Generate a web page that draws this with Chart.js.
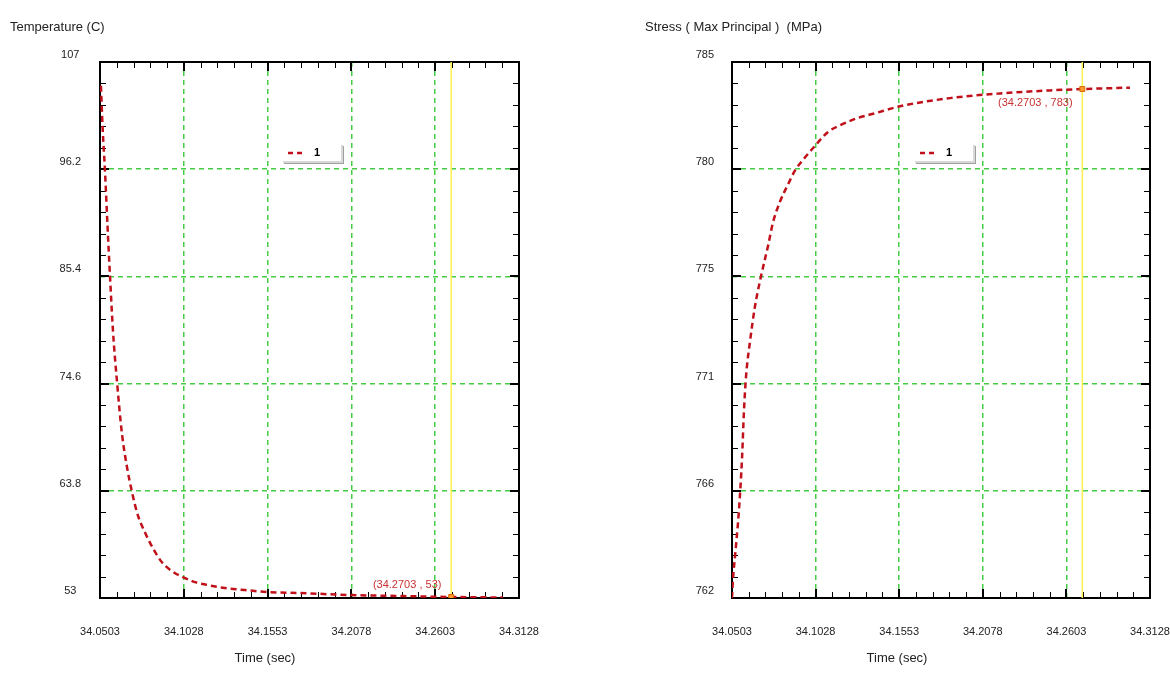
<!DOCTYPE html>
<html>
<head>
    <title>Temperature / Stress vs Time</title>
    <script src="https://cdn.jsdelivr.net/npm/chart.js"></script>
    <style>
        body {
            margin: 0;
            background-color: #fff;
            font-family: "Liberation Sans", Arial, sans-serif;
        }

        .panel {
            position: absolute;
            top: 0;
            height: 679px;
        }

        #leftPanel { left: 0; width: 585px; }
        #rightPanel { left: 635px; width: 535px; }
    </style>
</head>
<body>
    <div class="panel" id="leftPanel"><canvas id="tempChart" width="585" height="679"></canvas></div>
    <div class="panel" id="rightPanel"><canvas id="stressChart" width="535" height="679"></canvas></div>

    <script>
        // time axis (sec)
        var xTickValues = [34.0503, 34.1028, 34.1553, 34.2078, 34.2603, 34.3128];
        var xTickLabels = ['34.0503', '34.1028', '34.1553', '34.2078', '34.2603', '34.3128'];

        // temperature (C)
        var tempTickValues = [53, 63.8, 74.6, 85.4, 96.2, 107];
        var tempTickLabels = ['53', '63.8', '74.6', '85.4', '96.2', '107'];
        var tempTime = [34.0509, 34.0519, 34.0534, 34.0550, 34.0566, 34.0584, 34.0610, 34.0641, 34.0672,
            34.0703, 34.0741, 34.0785, 34.0835, 34.0891, 34.0954, 34.1023, 34.1098, 34.1180, 34.1286,
            34.1411, 34.1556, 34.1756, 34.2069, 34.2383, 34.2708, 34.3028];
        var tempValues = [104.6, 100.5, 96.1, 90.5, 85.3, 80.0, 74.7, 69.5, 66.2,
            63.7, 61.3, 59.6, 58.0, 56.6, 55.7, 55.1, 54.6, 54.3, 54.0,
            53.8, 53.6, 53.5, 53.3, 53.2, 53.1, 53.05];

        // stress, max principal (MPa)
        var stressTickValues = [762, 766.6, 771.2, 775.8, 780.4, 785];
        var stressTickLabels = ['762', '766', '771', '775', '780', '785'];
        var stressTime = [34.0503, 34.0509, 34.0522, 34.0547, 34.0566, 34.0578, 34.0591, 34.0616, 34.0647,
            34.0685, 34.0729, 34.0760, 34.0804, 34.0855, 34.0899, 34.0961, 34.1024, 34.1106, 34.1187,
            34.1294, 34.1401, 34.1558, 34.1872, 34.2186, 34.2500, 34.2707, 34.3002];
        var stressValues = [762.0, 762.8, 763.8, 765.8, 768.0, 770.0, 771.5, 773.0, 774.5,
            775.8, 777.1, 778.1, 779.0, 779.75, 780.35, 780.9, 781.4, 782.0, 782.3,
            782.6, 782.8, 783.1, 783.45, 783.65, 783.78, 783.84, 783.9];

        // cursor
        var cursorTime = 34.2703;
        var tempAtCursor = 53.1;
        var stressAtCursor = 783.84;

        // 4 minor ticks between each pair of major ticks
        function minorValues(ticks) {
            var out = [];
            for (var i = 0; i < ticks.length - 1; i++) {
                var a = ticks[i].value, b = ticks[i + 1].value;
                for (var k = 1; k < 5; k++) out.push(a + (b - a) * k / 5);
            }
            return out;
        }

        // black frame with inward ticks on all four sides
        var frameTicks = {
            id: 'frameTicks',
            beforeDatasetsDraw: function (chart) {
                var ctx = chart.ctx, a = chart.chartArea;
                var xs = chart.scales.x, ys = chart.scales.y;
                ctx.save();
                ctx.strokeStyle = '#000';
                ctx.lineWidth = 1;
                ctx.beginPath();
                minorValues(xs.ticks).forEach(function (v) {
                    var p = Math.round(xs.getPixelForValue(v)) + 0.5;
                    ctx.moveTo(p, a.bottom); ctx.lineTo(p, a.bottom - 6);
                    ctx.moveTo(p, a.top); ctx.lineTo(p, a.top + 6);
                });
                minorValues(ys.ticks).forEach(function (v) {
                    var p = Math.round(ys.getPixelForValue(v)) + 0.5;
                    ctx.moveTo(a.left, p); ctx.lineTo(a.left + 6, p);
                    ctx.moveTo(a.right, p); ctx.lineTo(a.right - 6, p);
                });
                ctx.stroke();

                ctx.lineWidth = 2;
                ctx.beginPath();
                xs.ticks.forEach(function (t) {
                    var p = Math.round(xs.getPixelForValue(t.value));
                    ctx.moveTo(p, a.bottom); ctx.lineTo(p, a.bottom - 9);
                    ctx.moveTo(p, a.top); ctx.lineTo(p, a.top + 9);
                });
                ys.ticks.forEach(function (t) {
                    var p = Math.round(ys.getPixelForValue(t.value));
                    ctx.moveTo(a.left, p); ctx.lineTo(a.left + 9, p);
                    ctx.moveTo(a.right, p); ctx.lineTo(a.right - 9, p);
                });
                ctx.stroke();
                ctx.strokeRect(a.left, a.top, a.right - a.left, a.bottom - a.top);
                ctx.restore();
            }
        };

        // titles, legend box and cursor label
        var panelDeco = {
            id: 'panelDeco',
            afterDatasetsDraw: function (chart, args, opts) {
                var ctx = chart.ctx, a = chart.chartArea;
                ctx.save();
                ctx.fillStyle = '#222';
                ctx.font = '13px "Liberation Sans", Arial, sans-serif';
                ctx.textBaseline = 'middle';
                ctx.textAlign = 'left';
                ctx.fillText(opts.title, 10, 27);
                ctx.textAlign = 'center';
                ctx.fillText('Time (sec)', a.left + 165, 658);

                // legend
                var lx = a.left + 182, ly = 144, lw = 60, lh = 18;
                ctx.fillStyle = '#a0a0a0';
                ctx.fillRect(lx + 2, ly + 2, lw, lh);
                ctx.fillStyle = '#d8d8d8';
                ctx.fillRect(lx + 1, ly + 1, lw, lh);
                ctx.fillStyle = '#fff';
                ctx.fillRect(lx, ly, lw - 1, lh - 1);
                ctx.strokeStyle = '#c0101a';
                ctx.lineWidth = 2.5;
                ctx.setLineDash([5, 4]);
                ctx.beginPath();
                ctx.moveTo(lx + 6, ly + 9);
                ctx.lineTo(lx + 22, ly + 9);
                ctx.stroke();
                ctx.setLineDash([]);
                ctx.fillStyle = '#000';
                ctx.font = 'bold 11px "Liberation Sans", Arial, sans-serif';
                ctx.fillText(chart.data.datasets[1].label, lx + 35, ly + 9);

                // cursor readout
                var px = chart.scales.x.getPixelForValue(cursorTime);
                var py = chart.scales.y.getPixelForValue(opts.cursorValue);
                ctx.fillStyle = '#c83232';
                ctx.font = '11px "Liberation Sans", Arial, sans-serif';
                ctx.fillText(opts.cursorLabel, px + opts.labelDx, py + opts.labelDy);
                ctx.restore();
            }
        };

        function makeChart(canvasId, times, values, tickValues, tickLabels, cursorValue, deco, padLeft, padRight, labelPad) {
            var yMin = tickValues[0], yMax = tickValues[tickValues.length - 1];
            var ctx = document.getElementById(canvasId).getContext('2d');
            return new Chart(ctx, {
                type: 'scatter',
                data: {
                    datasets: [{
                        label: 'cursor',
                        data: [{ x: cursorTime, y: cursorValue }],
                        pointStyle: 'rect',
                        pointRadius: 3.5,
                        backgroundColor: '#ff9a2e',
                        borderColor: '#d86a00',
                        borderWidth: 1,
                        showLine: false
                    }, {
                        label: '1',
                        data: times.map(function (t, i) { return { x: t, y: values[i] }; }),
                        showLine: true,
                        borderColor: '#c0101a',
                        borderWidth: 2.5,
                        borderDash: [6, 4],
                        pointRadius: 0,
                        cubicInterpolationMode: 'monotone'
                    }, {
                        label: 'cursorLine',
                        data: [{ x: cursorTime, y: yMin }, { x: cursorTime, y: yMax }],
                        showLine: true,
                        borderColor: '#fff04a',
                        borderWidth: 1.5,
                        pointRadius: 0
                    }]
                },
                options: {
                    responsive: false,
                    animation: false,
                    layout: { padding: { left: padLeft, top: 62, right: padRight, bottom: 0 } },
                    plugins: {
                        legend: { display: false },
                        tooltip: { enabled: false },
                        panelDeco: deco
                    },
                    scales: {
                        x: {
                            type: 'linear',
                            min: xTickValues[0],
                            max: xTickValues[xTickValues.length - 1],
                            afterBuildTicks: function (s) {
                                s.ticks = xTickValues.map(function (v) { return { value: v }; });
                            },
                            afterFit: function (s) {
                                s.height = 81;
                                s.paddingLeft = 0;
                                s.paddingRight = 0;
                            },
                            grid: { color: '#44cc44', lineWidth: 1.5, drawTicks: false },
                            border: { display: false, dash: [5, 4] },
                            ticks: {
                                autoSkip: false,
                                maxRotation: 0,
                                padding: 27,
                                color: '#222',
                                font: { family: '"Liberation Sans", Arial, sans-serif', size: 11 },
                                callback: function (v, i) { return xTickLabels[i]; }
                            }
                        },
                        y: {
                            type: 'linear',
                            min: yMin,
                            max: yMax,
                            afterBuildTicks: function (s) {
                                s.ticks = tickValues.map(function (v) { return { value: v }; });
                            },
                            afterFit: function (s) {
                                s.width = 60;
                                s.paddingTop = 0;
                                s.paddingBottom = 0;
                            },
                            grid: { color: '#44cc44', lineWidth: 1.5, drawTicks: false },
                            border: { display: false, dash: [5, 4] },
                            ticks: {
                                autoSkip: false,
                                crossAlign: 'center',
                                padding: labelPad,
                                labelOffset: -7,
                                color: '#222',
                                font: { family: '"Liberation Sans", Arial, sans-serif', size: 11 },
                                callback: function (v, i) { return tickLabels[i]; }
                            }
                        }
                    }
                },
                plugins: [frameTicks, panelDeco]
            });
        }

        var tempChart = makeChart('tempChart', tempTime, tempValues, tempTickValues, tempTickLabels, tempAtCursor,
            { title: 'Temperature (C)', cursorValue: tempAtCursor, cursorLabel: '(34.2703 , 53)', labelDx: -44, labelDy: -12 },
            40, 66, 19);

        var stressChart = makeChart('stressChart', stressTime, stressValues, stressTickValues, stressTickLabels, stressAtCursor,
            { title: 'Stress ( Max Principal )  (MPa)', cursorValue: stressAtCursor, cursorLabel: '(34.2703 , 783)', labelDx: -47, labelDy: 14 },
            37, 20, 18);
    </script>
</body>
</html>
